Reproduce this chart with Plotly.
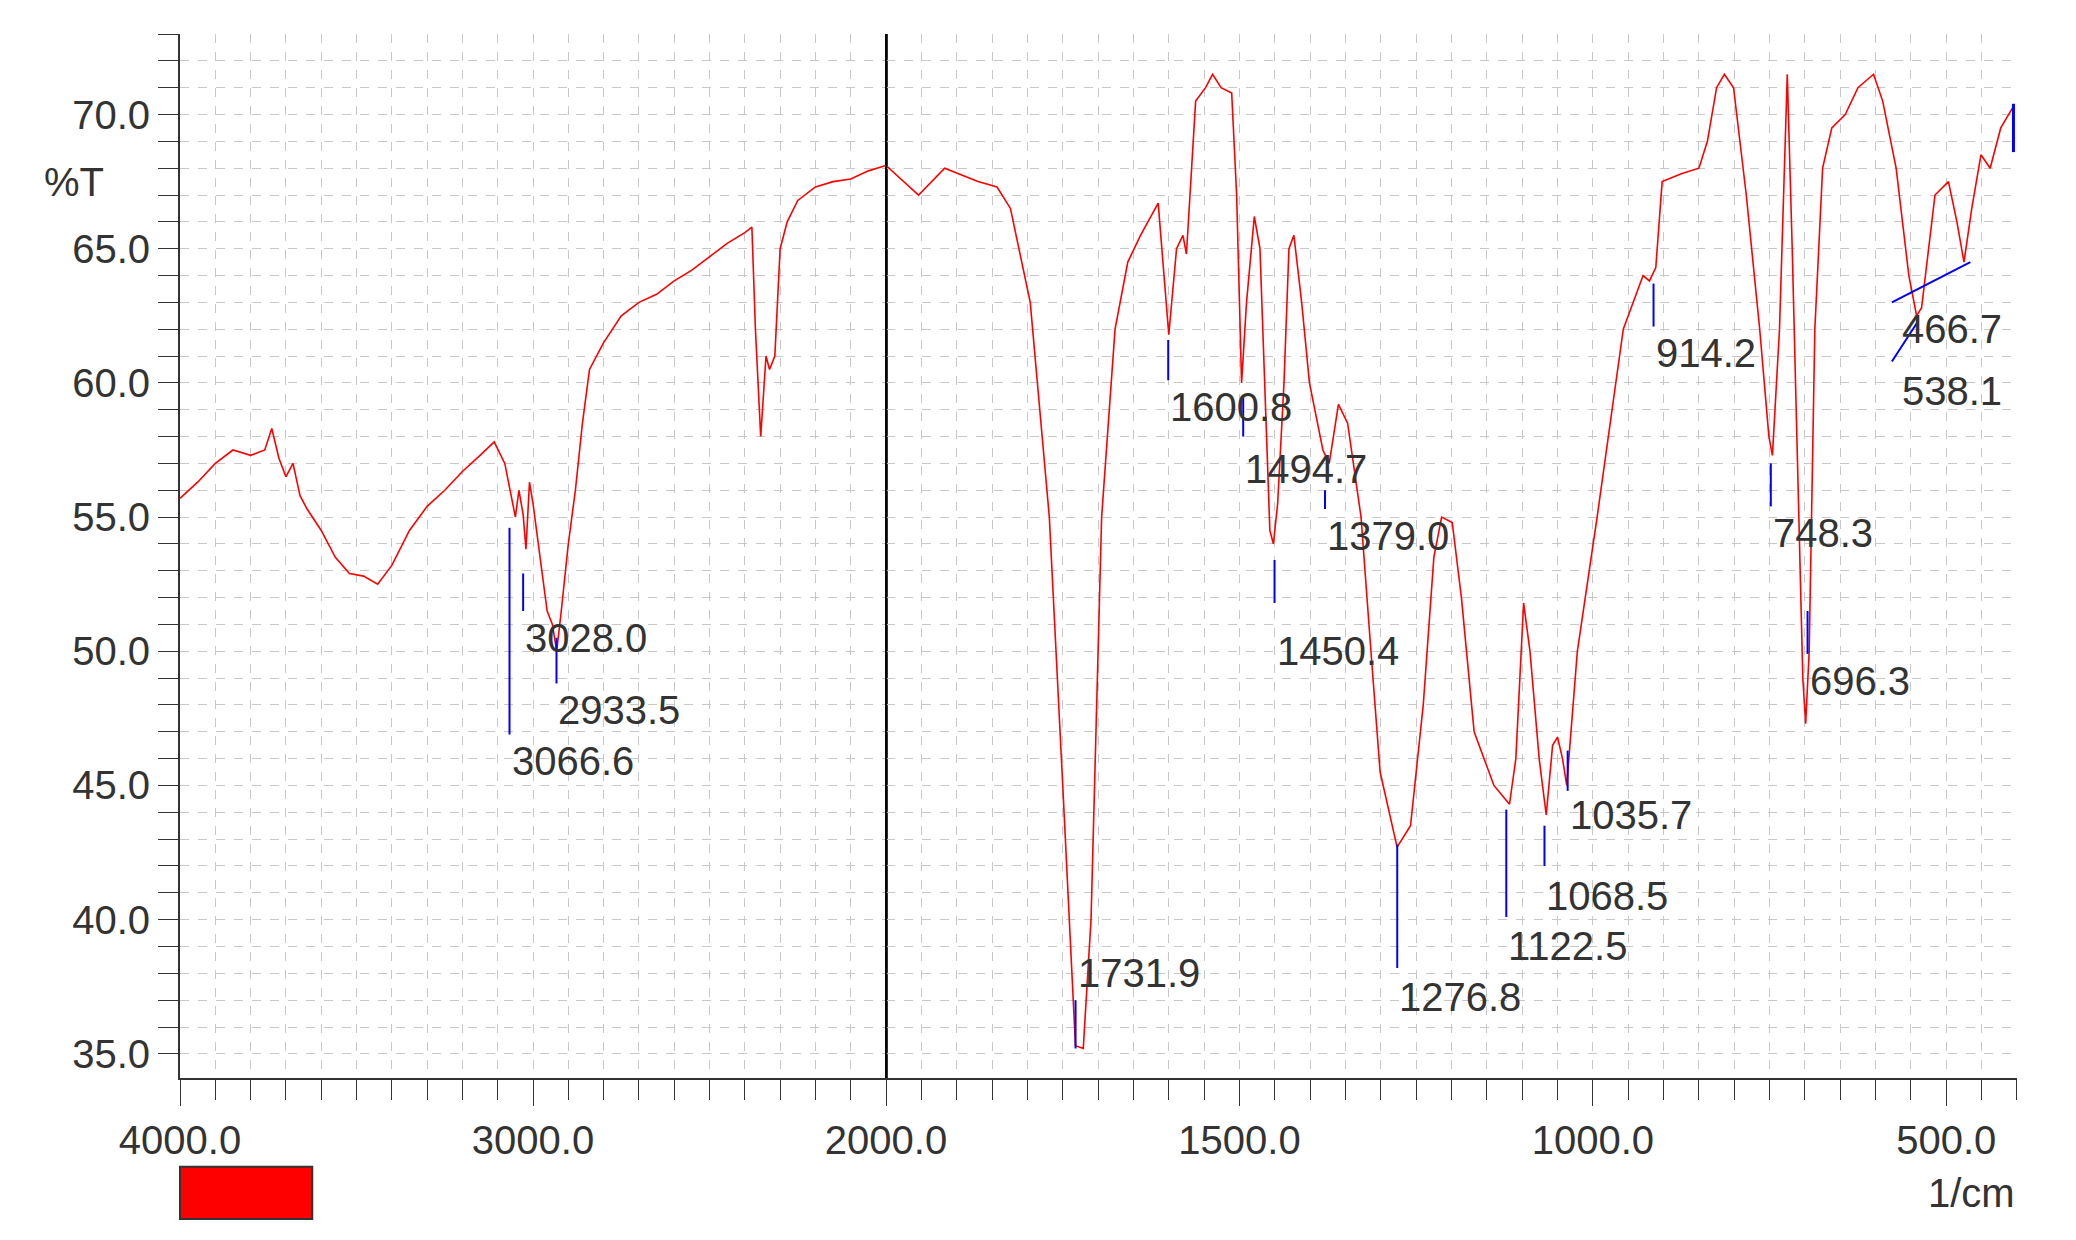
import plotly.graph_objects as go

wn_left = [4000,3950,3900,3850,3800,3760,3740,3720,3700,3680,3660,3640,3600,3560,3520,3480,3440,3400,3350,3300,3250,3200,3150,3110,3080,3066,3050,3040,3028,3020,3010,3000,2980,2960,2945,2933,2920,2900,2880,2860,2840,2800,2750,2700,2650,2600,2550,2500,2450,2400,2380,2370,2355,2340,2330,2315,2300,2280,2250,2200,2150,2100,2050,2000]
t_left = [55.7,56.3,57.0,57.5,57.3,57.5,58.3,57.2,56.5,57.0,55.8,55.3,54.5,53.5,52.9,52.8,52.5,53.2,54.5,55.4,56.0,56.7,57.3,57.8,57.0,56.0,55.0,56.0,55.1,53.8,56.3,55.5,53.5,51.5,51.0,50.0,51.5,54.0,56.0,58.5,60.5,61.5,62.5,63.0,63.3,63.8,64.2,64.7,65.2,65.6,65.8,62.0,58.0,61.0,60.5,61.0,65.0,66.0,66.8,67.3,67.5,67.6,67.9,68.1]

wn_right = [2000,1954,1917,1870,1843,1824,1796,1769,1750,1732,1721,1710,1695,1676,1658,1640,1615,1608,1600,1589,1580,1575,1562,1548,1538,1526,1511,1504,1497,1490,1479,1471,1464,1457,1452,1446,1437,1430,1423,1412,1401,1382,1373,1360,1347,1328,1314,1301,1277,1258,1240,1225,1214,1199,1186,1168,1140,1118,1109,1098,1089,1076,1066,1057,1050,1043,1037,1022,994,957,929,920,911,902,874,850,838,825,814,801,783,764,751,746,736,725,718,709,703,699,694,686,675,662,643,625,603,590,571,553,542,535,516,497,485,475,464,451,438,423,405]
t_right = [68.1,67.0,68.0,67.5,67.3,66.5,63.0,55.0,45.0,35.3,35.2,40.0,55.0,62.0,64.5,65.5,66.7,64.5,61.8,65.0,65.5,64.8,70.5,71.0,71.5,71.0,70.8,67.0,60.0,63.0,66.2,65.0,60.0,54.5,54.0,55.5,60.0,65.0,65.5,63.0,60.0,57.5,57.0,59.2,58.5,55.0,50.0,45.5,42.7,43.5,48.0,53.5,55.0,54.8,52.0,47.0,45.0,44.3,46.0,51.8,50.0,46.0,43.9,46.5,46.8,46.0,45.0,50.0,55.0,62.0,64.0,63.8,64.3,67.5,67.8,68.0,69.0,71.0,71.5,71.0,67.0,62.0,58.0,57.3,62.0,71.5,65.0,55.0,49.0,47.3,50.0,62.0,68.0,69.5,70.0,71.0,71.5,70.5,68.0,64.0,62.5,62.8,67.0,67.5,66.0,64.5,66.5,68.5,68.0,69.5,70.3]

peak_text = ["3066.6","3028.0","2933.5","1731.9","1600.8","1494.7","1450.4","1379.0","1276.8","1122.5","1068.5","1035.7","914.2","748.3","696.3"]
peak_wn = [3066.6,3028.0,2933.5,1731.9,1600.8,1494.7,1450.4,1379.0,1276.8,1122.5,1068.5,1035.7,914.2,748.3,696.3]
peak_y0 = [54.6,52.9,50.5,37.0,61.6,59.5,53.4,56.0,42.8,44.1,43.5,46.3,63.7,57.0,51.5]
peak_y1 = [46.9,51.5,48.8,35.2,60.1,58.0,51.8,55.3,38.2,40.1,42.0,44.8,62.1,55.4,49.9]
peak_ly = [45.9,50.5,47.8,38.0,59.1,56.8,50.0,54.3,37.1,39.0,40.9,43.9,61.1,54.4,48.9]

fig = go.Figure()
fig.add_trace(go.Scatter(x=wn_left, y=t_left, mode="lines", line=dict(color="red", width=1.6), xaxis="x", yaxis="y", showlegend=False))
fig.add_trace(go.Scatter(x=wn_right, y=t_right, mode="lines", line=dict(color="red", width=1.6), xaxis="x2", yaxis="y", showlegend=False))

FONT = "Liberation Sans, Arial"
LF = dict(family=FONT, size=40, color="#333333")
for txt, w, y0, y1, ly in zip(peak_text, peak_wn, peak_y0, peak_y1, peak_ly):
    xr = "x" if w > 2000 else "x2"
    fig.add_shape(type="line", xref=xr, yref="y", x0=w, x1=w, y0=y0, y1=y1, line=dict(color="blue", width=2))
    fig.add_annotation(xref=xr, yref="y", x=w, y=ly, text=txt, showarrow=False, xanchor="left", yanchor="middle", font=LF)
fig.add_shape(type="line", xref="x2", yref="y", x0=577, x1=540, y0=60.8, y1=62.3, line=dict(color="blue", width=2))
fig.add_shape(type="line", xref="x2", yref="y", x0=577, x1=466, y0=63.0, y1=64.5, line=dict(color="blue", width=2))
fig.add_shape(type="line", xref="x2", yref="y", x0=405, x1=405, y0=70.4, y1=68.6, line=dict(color="blue", width=3))
fig.add_annotation(xref="x2", yref="y", x=566, y=62.0, text="466.7", showarrow=False, xanchor="left", font=LF)
fig.add_annotation(xref="x2", yref="y", x=566, y=59.7, text="538.1", showarrow=False, xanchor="left", font=LF)

split = 540/1405
fig.add_shape(type="line", xref="paper", yref="paper", x0=split, x1=split, y0=0, y1=1, line=dict(color="black", width=2))

grid = dict(showgrid=True, gridcolor="#c8c8c8", griddash="dash", gridwidth=1)
fig.update_layout(
    width=2076, height=1240, paper_bgcolor="white", plot_bgcolor="white",
    margin=dict(l=172, r=6, t=26, b=170),
    font=dict(family=FONT, size=40, color="#333333"),
    xaxis=dict(domain=[0, split], range=[4000, 2000], tickvals=[4000, 3000, 2000], tickformat=".1f",
               ticks="outside", ticklen=26, tickcolor="#333", showline=True, linecolor="#333", linewidth=2,
               minor=dict(dtick=100, ticks="outside", ticklen=20, tickcolor="#333", **grid), **grid,
               anchor="y", zeroline=False),
    xaxis2=dict(domain=[split, 1], range=[2000, 400], tickvals=[1500, 1000, 500], tickformat=".1f",
                ticks="outside", ticklen=26, tickcolor="#333", showline=True, linecolor="#333", linewidth=2,
                minor=dict(dtick=50, ticks="outside", ticklen=20, tickcolor="#333", **grid), **grid,
                anchor="y", zeroline=False),
    yaxis=dict(range=[34.1, 73], dtick=5, tick0=0, tickformat=".1f", ticks="outside", ticklen=20, tickcolor="#333",
               showline=True, linecolor="#333", linewidth=2, mirror=True,
               minor=dict(dtick=1, ticks="outside", ticklen=20, tickcolor="#333", **grid), **grid, zeroline=False),
)
fig.add_annotation(xref="paper", yref="y", x=-0.075, y=67.5, text="%T", showarrow=False, xanchor="left", font=LF)
fig.add_annotation(xref="paper", yref="paper", x=1.0, y=-0.11, text="1/cm", showarrow=False, xanchor="right", yanchor="middle", font=LF)
fig.add_shape(type="rect", xref="paper", yref="paper", x0=0, x1=0.072, y0=-0.085, y1=-0.135,
              fillcolor="red", line=dict(color="#333", width=2))
fig.write_html("out.html")
